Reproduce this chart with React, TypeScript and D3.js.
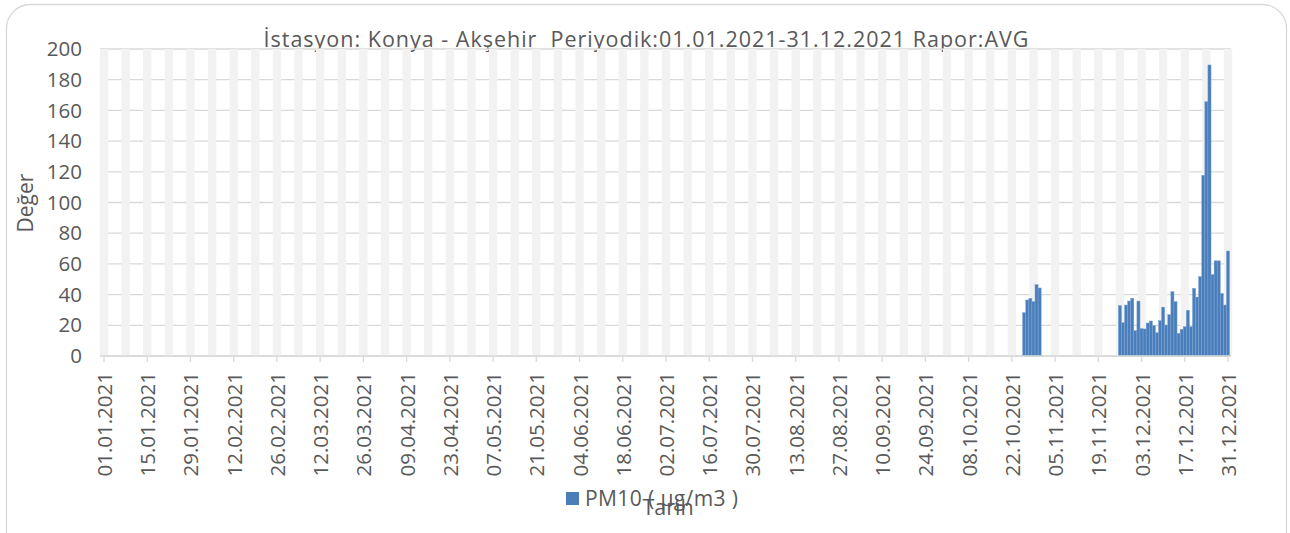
import React from 'react';
import * as d3 from 'd3';

// PM10 daily averages, Konya - Akşehir 2021 (only two periods have data)
const yearStart = '01.01.2021';
const yearEnd = '31.12.2021';
const octStart = '26.10.2021';
const octValues = [28.2, 36.5, 37.6, 35.4, 46.5, 44.3];
const novStart = '26.11.2021';
const novValues = [
  32.8, 21.7, 33.2, 35.8, 37.6, 16.5, 35.8, 17.8, 17.6, 21.5, 22.8, 19.8,
  15.2, 23.0, 31.8, 20.2, 26.9, 41.9, 35.4, 14.8, 17.4, 19.1, 29.8, 19.1,
  44.1, 38.4, 51.7, 117.7, 165.7, 189.6, 53.0, 62.0, 62.0, 40.8, 33.2, 68.4,
];
const yTicks = [0, 20, 40, 60, 80, 100, 120, 140, 160, 180, 200];
const title = 'İstasyon: Konya - Akşehir  Periyodik:01.01.2021-31.12.2021 Rapor:AVG';
const yTitle = 'Değer';
const xTitle = 'Tarih';
const seriesName = 'PM10 ( µg/m3 )';

const W = 1290;
const H = 533;
const FONT = '"Open Sans", sans-serif';
const TEXT = '#595959';
const GRID = '#d9d9d9';
const STRIPE = '#f2f2f2';
const BLUE = '#4a7ebb';

const parse = d3.utcParse('%d.%m.%Y');
const fmt = d3.utcFormat('%d.%m.%Y');

function toPoints(start: string, values: number[]) {
  const s = parse(start)!;
  return values.map((v, i) => ({ date: d3.utcDay.offset(s, i), value: v }));
}

export default function App() {
  const d0 = parse(yearStart)!;
  const d1 = parse(yearEnd)!;
  const nDays = d3.utcDay.count(d0, d1);
  const x = d3.scaleUtc().domain([d0, d1]).range([104, 1228]);
  const y = d3.scaleLinear().domain([0, 200]).range([356, 49]);
  const dayW = x(d3.utcDay.offset(d0, 1)) - x(d0);

  const points = [...toPoints(octStart, octValues), ...toPoints(novStart, novValues)];
  const weeks = d3.range(0, nDays + 1, 7).map((k) => d3.utcDay.offset(d0, k));
  const ticks = d3.range(0, nDays + 1, 14).map((k) => d3.utcDay.offset(d0, k));
  const weekW = dayW * 2.7;
  const plotL = 100;
  const plotR = 1231;

  return (
    <svg
      width={W}
      height={H}
      style={{ position: 'absolute', left: 0, top: 0, background: '#fff' }}
      fontFamily={FONT}
    >
      <rect x={6.5} y={4.5} width={1280} height={560} rx={24} fill="#fff" stroke={GRID} strokeWidth={1.3} />

      <text
        x={646}
        y={47}
        textAnchor="middle"
        fontSize={21.5}
        fill={TEXT}
        textLength={765}
        lengthAdjust="spacing"
        style={{ whiteSpace: 'pre' }}
      >
        {title}
      </text>

      {/* horizontal gridlines */}
      {yTicks.map((t) => (
        <line key={t} x1={plotL} x2={plotR} y1={y(t)} y2={y(t)} stroke={GRID} strokeWidth={1.3} />
      ))}

      {/* light weekly stripes */}
      {weeks.map((d, i) => (
        <rect key={i} x={x(d) - weekW / 2} y={y(200)} width={weekW} height={y(0) - y(200)} fill={STRIPE} />
      ))}

      {/* data bars */}
      {points.map((p, i) => (
        <rect
          key={i}
          x={x(p.date) - dayW / 2}
          y={y(p.value)}
          width={dayW}
          height={y(0) - y(p.value)}
          fill={BLUE}
          stroke="#7da3d3"
          strokeWidth={0.5}
        />
      ))}

      {/* x axis */}
      <line x1={plotL} x2={plotR} y1={y(0)} y2={y(0)} stroke={GRID} strokeWidth={1.3} />
      {ticks.map((d, i) => (
        <g key={i} transform={`translate(${x(d)},0)`}>
          <line y1={y(0)} y2={y(0) + 6} stroke={GRID} strokeWidth={1.3} />
          <text
            transform={`translate(8,372) rotate(-90)`}
            textAnchor="end"
            fontSize={20.5}
            fill={TEXT}
          >
            {fmt(d)}
          </text>
        </g>
      ))}

      {/* y axis labels */}
      {yTicks.map((t) => (
        <text key={t} x={82} y={y(t)} dy="0.35em" textAnchor="end" fontSize={20.5} fill={TEXT}>
          {t}
        </text>
      ))}

      <text transform={`translate(33,203) rotate(-90)`} textAnchor="middle" fontSize={21} fill={TEXT}>
        {yTitle}
      </text>

      {/* legend */}
      <rect x={566} y={492} width={13} height={13} fill={BLUE} />
      <text x={585} y={506} fontSize={21} fill={TEXT} textLength={153} lengthAdjust="spacing">
        {seriesName}
      </text>

      <text x={668} y={515} textAnchor="middle" fontSize={21.5} fill={TEXT}>{xTitle}</text>
    </svg>
  );
}
